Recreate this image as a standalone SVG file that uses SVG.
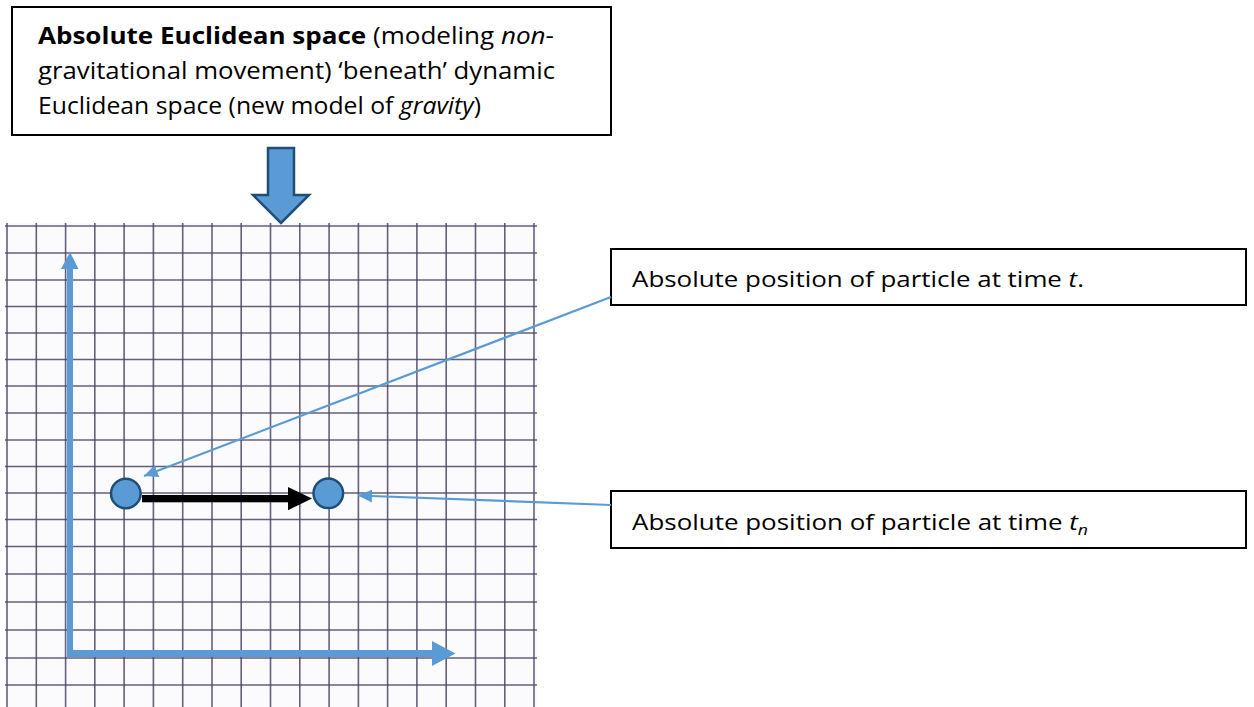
<svg xmlns="http://www.w3.org/2000/svg" width="1254" height="707" viewBox="0 0 1254 707">
  <style>
    .box { fill: #ffffff; stroke: #000000; stroke-width: 2; }
    .txt { font-family: "Open Sans", "Liberation Sans", sans-serif; fill: #000000; }
    .gl { stroke: #4a4464; stroke-width: 1.6; stroke-opacity: 0.85; }
    .blue { fill: #5b9bd5; }
    .particle { fill: #5b9bd5; stroke: #1f4e79; stroke-width: 2.5; }
    .conn { stroke: #5b9bd5; stroke-width: 2.2; fill: none; }
  </style>
  <defs>
    <marker id="bluehead" markerUnits="userSpaceOnUse" markerWidth="15" markerHeight="13" refX="14" refY="6.5" orient="auto">
      <path d="M0,0 L14,6.5 L0,13 z" fill="#5b9bd5"/>
    </marker>
  </defs>
  <rect x="0" y="0" width="1254" height="707" fill="#ffffff"/>

  <!-- grid paper -->
  <g id="grid-paper">
    <rect x="5" y="223" width="532" height="484" fill="#fbfbfd"/>
    <g class="gl">
      <line x1="7" y1="223" x2="7" y2="707"/>
      <line x1="36.3" y1="223" x2="36.3" y2="707"/>
      <line x1="65.6" y1="223" x2="65.6" y2="707"/>
      <line x1="94.8" y1="223" x2="94.8" y2="707"/>
      <line x1="124.1" y1="223" x2="124.1" y2="707"/>
      <line x1="153.4" y1="223" x2="153.4" y2="707"/>
      <line x1="182.7" y1="223" x2="182.7" y2="707"/>
      <line x1="212" y1="223" x2="212" y2="707"/>
      <line x1="241.2" y1="223" x2="241.2" y2="707"/>
      <line x1="270.5" y1="223" x2="270.5" y2="707"/>
      <line x1="299.8" y1="223" x2="299.8" y2="707"/>
      <line x1="329.1" y1="223" x2="329.1" y2="707"/>
      <line x1="358.4" y1="223" x2="358.4" y2="707"/>
      <line x1="387.6" y1="223" x2="387.6" y2="707"/>
      <line x1="416.9" y1="223" x2="416.9" y2="707"/>
      <line x1="446.2" y1="223" x2="446.2" y2="707"/>
      <line x1="475.5" y1="223" x2="475.5" y2="707"/>
      <line x1="504.8" y1="223" x2="504.8" y2="707"/>
      <line x1="534" y1="223" x2="534" y2="707"/>
      <line x1="5" y1="226" x2="537" y2="226"/>
      <line x1="5" y1="253" x2="537" y2="253"/>
      <line x1="5" y1="280" x2="537" y2="280"/>
      <line x1="5" y1="306.5" x2="537" y2="306.5"/>
      <line x1="5" y1="333" x2="537" y2="333"/>
      <line x1="5" y1="359.5" x2="537" y2="359.5"/>
      <line x1="5" y1="386" x2="537" y2="386"/>
      <line x1="5" y1="413" x2="537" y2="413"/>
      <line x1="5" y1="440" x2="537" y2="440"/>
      <line x1="5" y1="466.5" x2="537" y2="466.5"/>
      <line x1="5" y1="493" x2="537" y2="493"/>
      <line x1="5" y1="519.5" x2="537" y2="519.5"/>
      <line x1="5" y1="546.5" x2="537" y2="546.5"/>
      <line x1="5" y1="574" x2="537" y2="574"/>
      <line x1="5" y1="602" x2="537" y2="602"/>
      <line x1="5" y1="630" x2="537" y2="630"/>
      <line x1="5" y1="658" x2="537" y2="658"/>
      <line x1="5" y1="685" x2="537" y2="685"/>
    </g>
  </g>

  <!-- axes -->
  <g id="y-axis">
    <rect class="blue" x="67" y="268" width="6" height="387"/>
    <polygon class="blue" points="61,269 70,252 78.5,269"/>
  </g>
  <g id="x-axis">
    <rect class="blue" x="67" y="650" width="366" height="7"/>
    <polygon class="blue" points="432,641 455.5,653.5 432,666"/>
  </g>

  <!-- title box -->
  <g id="title-box">
    <rect class="box" x="12" y="7" width="599" height="128"/>
    <text class="txt" x="38" y="44" font-size="23" textLength="516" lengthAdjust="spacingAndGlyphs"><tspan font-weight="bold">Absolute Euclidean space</tspan> (modeling <tspan font-style="italic">non</tspan>-</text>
    <text class="txt" x="38" y="79" font-size="23" textLength="517" lengthAdjust="spacingAndGlyphs">gravitational movement) ‘beneath’ dynamic</text>
    <text class="txt" x="38" y="114" font-size="23" textLength="443" lengthAdjust="spacingAndGlyphs">Euclidean space (new model of <tspan font-style="italic">gravity</tspan>)</text>
  </g>

  <!-- big down arrow -->
  <g id="down-arrow">
    <polygon points="268,148 294,148 294,195 309,195 281,223 253,195 268,195" fill="#5b9bd5" stroke="#1f4e79" stroke-width="2.5" stroke-linejoin="miter"/>
  </g>

  <!-- particles and motion -->
  <g id="particle-t">
    <circle class="particle" cx="125.8" cy="493.5" r="14.8"/>
  </g>
  <g id="motion-arrow">
    <rect x="142" y="495" width="147" height="7.3" fill="#000000"/>
    <polygon points="288,487 312,498.6 288,510.2" fill="#000000"/>
  </g>
  <g id="particle-tn">
    <circle class="particle" cx="328.3" cy="493.3" r="14.8"/>
  </g>

  <!-- label boxes -->
  <g id="label-t">
    <rect class="box" x="611" y="249" width="635" height="56"/>
    <text class="txt" x="632" y="287" font-size="22" textLength="452" lengthAdjust="spacingAndGlyphs">Absolute position of particle at time <tspan font-style="italic">t</tspan>.</text>
  </g>
  <g id="label-tn">
    <rect class="box" x="611" y="491" width="635" height="57"/>
    <text class="txt" x="632" y="530" font-size="22" textLength="456" lengthAdjust="spacingAndGlyphs">Absolute position of particle at time <tspan font-style="italic">t</tspan><tspan font-style="italic" font-size="15" dy="5">n</tspan></text>
  </g>

  <!-- connectors -->
  <g id="connectors">
    <line class="conn" x1="611" y1="297" x2="144" y2="476" marker-end="url(#bluehead)"/>
    <line class="conn" x1="611" y1="505" x2="358" y2="495.5" marker-end="url(#bluehead)"/>
  </g>
</svg>
